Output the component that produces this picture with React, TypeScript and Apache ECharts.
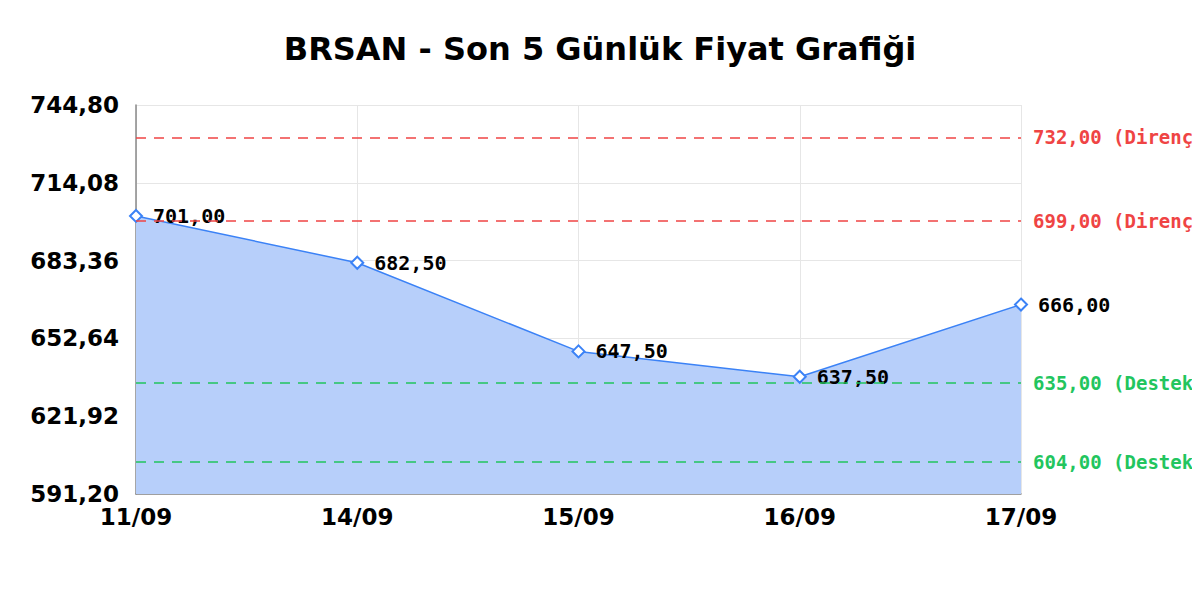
import React, { useEffect, useRef } from "react";
import * as echarts from "echarts";

// Son 5 günlük kapanış fiyatları
const dates = ["11/09", "14/09", "15/09", "16/09", "17/09"];
const prices = [701.0, 682.5, 647.5, 637.5, 666.0];

// Direnç / destek seviyeleri
const resistanceLevels = [732.0, 699.0];
const supportLevels = [635.0, 604.0];

// Y ekseni sınırları
const yMin = 591.2;
const yMax = 744.8;
const yStep = 30.72;

const fmt = (v: number) => v.toFixed(2).replace(".", ",");

const App = () => {
  const chartRef = useRef<HTMLDivElement>(null);

  useEffect(() => {
    if (!chartRef.current) return;
    const chart = echarts.init(chartRef.current, null, { renderer: "svg" });

    const levelLine = (value: number, color: string, label: string) => ({
      yAxis: value,
      lineStyle: { color, type: [10, 8], width: 1.5 },
      label: {
        show: true,
        position: "end",
        distance: 12,
        formatter: `${fmt(value)} (${label})`,
        color,
        fontFamily: "DejaVu Sans Mono",
        fontWeight: "bold",
        fontSize: 19,
      },
    });

    chart.setOption({
      animation: false,
      title: {
        text: "BRSAN - Son 5 Günlük Fiyat Grafiği",
        left: "center",
        top: 28,
        textStyle: {
          fontFamily: "DejaVu Sans",
          fontWeight: "bold",
          fontSize: 32,
          color: "#000",
        },
      },
      grid: { left: 136, right: 179, top: 105, bottom: 106, containLabel: false },
      xAxis: {
        type: "category",
        data: dates,
        boundaryGap: false,
        axisLine: { lineStyle: { color: "#888", width: 1.5 } },
        axisTick: { show: false },
        splitLine: { show: true, lineStyle: { color: "#e6e6e6" } },
        axisLabel: {
          color: "#000",
          fontFamily: "DejaVu Sans",
          fontWeight: "bold",
          fontSize: 23,
          margin: 11,
        },
      },
      yAxis: {
        type: "value",
        min: yMin,
        max: yMax,
        interval: yStep,
        axisLine: { show: true, lineStyle: { color: "#888", width: 1.5 } },
        axisTick: { show: false },
        splitLine: { show: true, lineStyle: { color: "#e6e6e6" } },
        axisLabel: {
          color: "#000",
          fontFamily: "DejaVu Sans",
          fontWeight: "bold",
          fontSize: 23,
          margin: 17,
          formatter: (v: number) => fmt(v),
        },
      },
      series: [
        {
          type: "line",
          data: prices,
          symbol: "diamond",
          symbolSize: 12,
          lineStyle: { color: "#3b82f6", width: 1.5 },
          itemStyle: { color: "#fff", borderColor: "#3b82f6", borderWidth: 2 },
          areaStyle: { color: "#b7cffa", opacity: 1 },
          label: {
            show: true,
            position: "right",
            distance: 10,
            formatter: (p: any) => fmt(p.value),
            color: "#000",
            fontFamily: "DejaVu Sans Mono",
            fontWeight: "bold",
            fontSize: 20,
          },
          markLine: {
            silent: true,
            symbol: "none",
            data: [
              ...resistanceLevels.map((v) => levelLine(v, "#ef4444", "Direnç")),
              ...supportLevels.map((v) => levelLine(v, "#22c55e", "Destek")),
            ],
          },
        },
      ],
    });

    return () => chart.dispose();
  }, []);

  return <div ref={chartRef} style={{ width: "1200px", height: "600px", margin: "-8px" }} />;
};

export default App;
